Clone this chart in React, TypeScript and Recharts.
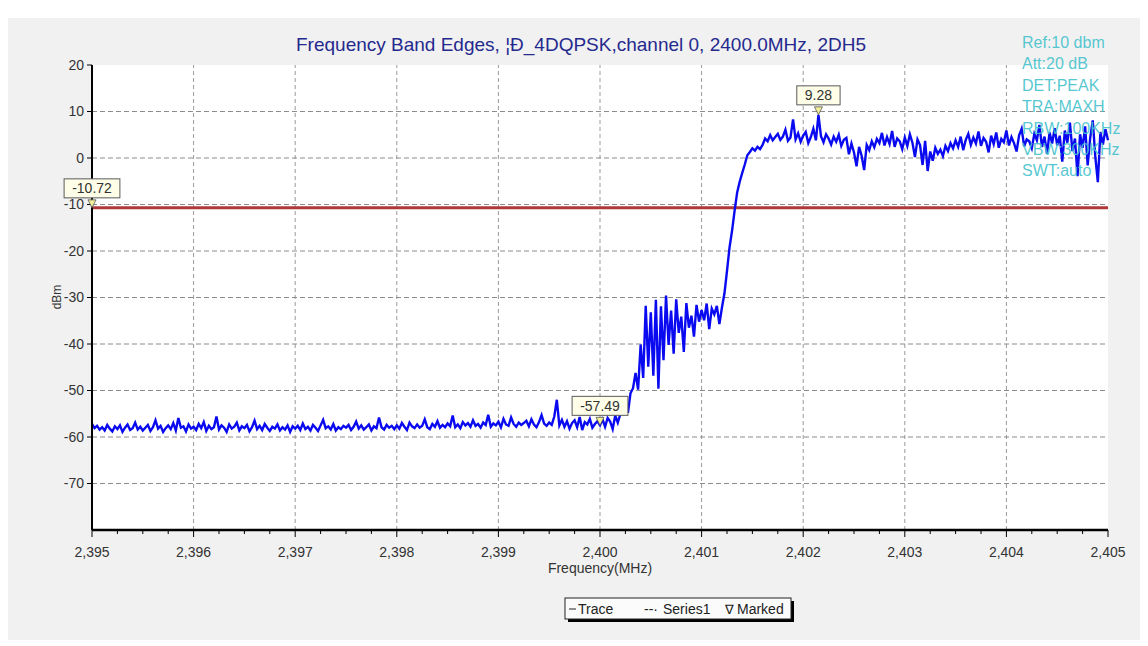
import React from 'react';
import { ComposedChart, Line, Scatter, XAxis, YAxis, ReferenceLine } from 'recharts';

const FONT = 'Liberation Sans, Arial, sans-serif';

// Sweep grid
const START_FREQ = 2395;
const STEP_MHZ = 0.025;

// Trace values (dBm), one per sweep step
const traceValues = [
  -57.2, -58.1, -57.6, -58.4, -57.9, -58.6, -57.4, -58.2, -58.8, -57.7,
  -58.3, -57.5, -58.9, -58.0, -57.3, -58.5, -58.1, -56.9, -58.4, -57.8,
  -58.6, -58.0, -57.4, -58.7, -57.9, -56.4, -58.2, -57.6, -58.9, -58.1,
  -57.5, -58.3, -57.0, -58.6, -55.9, -58.0, -57.7, -58.8, -57.3, -58.2,
  -57.8, -58.5, -57.2, -58.1, -56.8, -58.7, -57.6, -58.3, -57.9, -55.6,
  -58.4, -57.5, -58.0, -58.9, -57.3, -58.2, -57.8, -56.9, -58.6, -57.7,
  -58.1, -57.4, -58.8, -57.9, -56.5, -58.3, -57.6, -58.5, -57.2, -58.0,
  -58.7, -57.8, -58.2, -57.3, -58.6, -57.9, -58.4, -57.5, -58.9, -57.7,
  -58.2, -57.6, -58.5, -57.1, -58.3, -57.8, -58.6, -57.4, -58.0, -58.7,
  -57.5, -56.3, -58.1, -57.7, -58.4, -57.2, -58.6, -57.9, -58.3, -57.6,
  -58.0, -57.4, -58.5, -57.8, -56.7, -58.2, -57.5, -58.4, -57.9, -57.3,
  -58.6, -57.7, -58.1, -55.8, -57.9, -58.4, -57.4, -58.0, -57.6, -58.3,
  -57.5, -58.2, -57.0, -57.8, -58.5, -56.9, -57.7, -58.1, -57.3, -58.0,
  -57.6, -56.2, -57.9, -58.3, -57.2, -57.8, -56.6, -58.0, -57.4, -57.9,
  -57.1, -57.7, -55.4, -57.9, -57.3, -58.1, -56.8, -57.5, -57.0, -57.8,
  -56.4, -57.6, -57.2, -58.0, -56.9, -57.4, -55.2, -57.8, -57.1, -57.5,
  -56.7, -57.9, -56.1, -57.3, -57.6, -55.8, -57.2, -57.8, -56.9, -57.4,
  -57.0, -56.5, -57.7, -56.2, -57.3, -57.9, -56.8, -55.3, -57.1, -57.6,
  -56.9, -57.4, -55.6, -52.0, -57.5, -56.3, -57.8, -56.6, -58.2, -57.0,
  -56.4, -57.9, -55.7, -58.5, -56.8, -57.3, -56.1, -58.0, -57.2, -56.6,
  -57.49, -56.2, -57.8, -55.9, -56.7, -58.3, -55.4, -56.9, -55.1, -53.6,
  -52.4, -54.8, -50.6, -49.5, -46.2, -49.8, -40.1, -47.3, -31.8, -44.9,
  -33.2, -46.8, -30.5, -49.6, -31.9, -43.5, -29.6, -40.2, -32.8, -42.1,
  -30.4, -37.6, -34.1, -41.7, -31.2, -36.5, -33.9, -38.4, -31.6, -35.2,
  -32.7, -34.9, -31.3, -36.8, -32.4, -33.6, -31.8, -35.7, -32.2, -29.1,
  -24.3, -19.2, -15.6, -11.3, -7.4, -5.1, -3.2, -1.4, 0.6, 1.3,
  2.1, 1.6, 2.4, 1.9, 2.8, 4.2, 3.6, 4.9, 3.8, 4.5,
  5.2, 3.9, 4.6, 6.1, 3.7, 4.4, 8.3, 4.0, 5.3, 3.5,
  4.8, 5.6, 3.2, 4.5, 6.3, 3.8, 9.28, 4.7, 3.4, 5.1,
  4.2, 2.9, 4.6, 3.5, 5.0, 2.6, 3.9, 4.3, 0.8, 3.1,
  1.2, -1.8, 2.4, 0.5, -2.6, 2.8, 1.7, 3.6, 2.3, 4.1,
  3.2, 5.4, 2.7, 4.5, 3.0, 5.8, 2.4, 4.2, 3.6, 1.9,
  4.4, 2.6, 5.1, 3.3, 0.2, 4.0, 2.8, -1.5, 3.7, -2.8,
  1.4, -0.6, 2.2, 0.9, 1.8, 0.4, 2.6, 1.5, 3.2, 2.1,
  3.8, 2.4, 4.6, 1.7, 3.9, 5.2, 2.8, 4.4, 3.1, 5.7,
  2.6, 4.3, 3.5, 1.2, 4.8, 3.0, 5.5, 2.2, 4.1, 3.4,
  5.9, 2.7, 4.5, 3.2, 1.4, 4.9, 6.3, 2.5, 4.0, 3.6,
  2.1, 5.2, 3.8, 7.1, 2.4, 4.6, 0.9, 5.5, 3.1, 6.4,
  2.7, 4.8, -0.8, 5.9, 3.3, 7.6, 1.5, 4.2, -3.9, 5.1,
  2.2, 6.8, -1.6, 4.4, 8.1, 0.3, -5.2, 5.6, 2.9, 6.2,
  3.8,
];

// Series1: limit line
const series1Freqs = [2395, 2405];
const series1Values = [-10.72, -10.72];

// Marked points
const markedFreqs = [2395, 2400, 2402.15];
const markedValues = [-10.72, -57.49, 9.28];

// Axis ticks
const xMajorTicks = [2395, 2396, 2397, 2398, 2399, 2400, 2401, 2402, 2403, 2404, 2405];
const xMinorPerMajor = 4;
const yTicks = [20, 10, 0, -10, -20, -30, -40, -50, -60, -70];
const yGridValues = [10, 0, -10, -20, -30, -40, -50, -60, -70];
const xGridValues = [2396, 2397, 2398, 2399, 2400, 2401, 2402, 2403, 2404];

const infoLines = ['Ref:10 dbm', 'Att:20 dB', 'DET:PEAK', 'TRA:MAXH', 'RBW:100KHz', 'VBW:300KHz', 'SWT:auto'];
const titleText = 'Frequency Band Edges, ¦Ð_4DQPSK,channel 0, 2400.0MHz, 2DH5';

const traceRows = traceValues.map((v, i) => ({ f: +(START_FREQ + i * STEP_MHZ).toFixed(3), trace: v }));
const series1Rows = series1Freqs.map((f, i) => ({ f, v: series1Values[i] }));
const markedRows = markedFreqs.map((f, i) => ({ f, v: markedValues[i] }));

const xAllTicks: number[] = [];
xMajorTicks.forEach((t, i) => {
  xAllTicks.push(t);
  if (i < xMajorTicks.length - 1) {
    for (let k = 1; k < xMinorPerMajor; k++) xAllTicks.push(+(t + k / xMinorPerMajor).toFixed(3));
  }
});

const XTick = (props: any) => {
  const { x, y, payload } = props;
  const v = payload.value;
  const major = Math.abs(v - Math.round(v)) < 1e-6;
  if (!major) {
    return <line x1={x} y1={y} x2={x} y2={y + 4} stroke="#000" strokeWidth={1} />;
  }
  return (
    <g>
      <line x1={x} y1={y} x2={x} y2={y + 7} stroke="#000" strokeWidth={1} />
      <text x={x} y={y + 27} textAnchor="middle" fontSize={14} fill="#333" fontFamily={FONT}>
        {Math.round(v).toLocaleString('en-US')}
      </text>
    </g>
  );
};

const charW = (s: string) =>
  s.split('').reduce((a, c) => a + (c === '.' ? 3.9 : c === '-' ? 4.7 : 7.8), 0);

const MarkerShape = (props: any) => {
  const { cx, cy, payload } = props;
  if (cx == null || cy == null) return null;
  const label = Number(payload.v).toFixed(2);
  const w = charW(label) + 16;
  return (
    <g>
      <rect x={cx - w / 2} y={cy - 29} width={w} height={19} fill="#fdfde8" stroke="#5a5a5a" strokeWidth={1} />
      <text x={cx} y={cy - 14.5} textAnchor="middle" fontSize={14} fill="#333" fontFamily={FONT}>
        {label}
      </text>
      <path d={`M${cx - 4},${cy - 8} L${cx + 4},${cy - 8} L${cx},${cy} Z`} fill="#f3ee9a" stroke="#555" strokeWidth={0.8} />
    </g>
  );
};

export default function App() {
  return (
    <div style={{ position: 'absolute', left: 0, top: 0, width: 1148, height: 646, background: '#ffffff', overflow: 'hidden' }}>
      <div style={{ position: 'absolute', left: 8, top: 18, width: 1132, height: 622, background: '#f1f1f1' }} />
      <div style={{ position: 'absolute', left: 92, top: 65, width: 1016, height: 465, background: '#ffffff' }} />
      <div style={{ position: 'absolute', left: 0, top: 0 }}>
        <ComposedChart
          width={1148}
          height={646}
          data={traceRows}
          margin={{ top: 65, right: 40, left: 32, bottom: 86 }}
        >
          <XAxis
            dataKey="f"
            type="number"
            domain={[2395, 2405]}
            ticks={xAllTicks}
            interval={0}
            tick={<XTick />}
            tickLine={false}
            tickSize={0}
            tickMargin={0}
            height={30}
            axisLine={{ stroke: '#000', strokeWidth: 2.5 }}
          />
          <YAxis
            type="number"
            domain={[-80, 20]}
            ticks={yTicks}
            interval={0}
            width={60}
            tickSize={5}
            tickMargin={3}
            tick={{ fontSize: 14, fill: '#333', fontFamily: FONT }}
            tickLine={{ stroke: '#000' }}
            axisLine={{ stroke: '#000', strokeWidth: 2 }}
          />
          {xGridValues.map((g) => (
            <ReferenceLine key={'vx' + g} x={g} stroke="#9a9a9a" strokeDasharray="4 3" strokeWidth={1} />
          ))}
          {yGridValues.map((g) => (
            <ReferenceLine key={'hy' + g} y={g} stroke="#8c8c8c" strokeDasharray="5 3" strokeWidth={1} />
          ))}
          <Line
            data={series1Rows}
            dataKey="v"
            stroke="#b03838"
            strokeWidth={3}
            dot={false}
            isAnimationActive={false}
          />
          <Line
            dataKey="trace"
            stroke="#0a0af0"
            strokeWidth={2.4}
            strokeLinejoin="miter"
            dot={false}
            isAnimationActive={false}
          />
          <Scatter data={markedRows} dataKey="v" shape={<MarkerShape />} isAnimationActive={false} />
        </ComposedChart>
      </div>
      <svg width={1148} height={646} style={{ position: 'absolute', left: 0, top: 0, pointerEvents: 'none' }}>
        <text x={581} y={51} textAnchor="middle" fontSize={19} fill="#25298e" fontFamily={FONT}>
          {titleText}
        </text>
        {infoLines.map((t, i) => (
          <text key={t} x={1022} y={48 + i * 21.4} fontSize={16} fill="#45c2cc" fillOpacity={0.92} fontFamily={FONT}>
            {t}
          </text>
        ))}
        <text x={0} y={0} transform="translate(61,297) rotate(-90)" textAnchor="middle" fontSize={12} fill="#333" fontFamily={FONT}>
          dBm
        </text>
        <text x={600} y={573} textAnchor="middle" fontSize={14} fill="#333" fontFamily={FONT}>
          Frequency(MHz)
        </text>
        <rect x={568} y={601} width={226} height={21} fill="#000" />
        <rect x={565} y={598} width={226} height={21} fill="#fbfbfb" stroke="#222" strokeWidth={1} />
        <line x1={569} y1={609} x2={576} y2={609} stroke="#222" strokeWidth={1} />
        <text x={578} y={614} fontSize={14} fill="#222" fontFamily={FONT}>Trace</text>
        <text x={644} y={614} fontSize={14} fill="#222" fontFamily={FONT}>--·</text>
        <text x={663} y={614} fontSize={14} fill="#222" fontFamily={FONT}>Series1</text>
        <text x={725} y={614} fontSize={13} fill="#222" fontFamily={FONT}>∇</text>
        <text x={737} y={614} fontSize={14} fill="#222" fontFamily={FONT}>Marked</text>
      </svg>
    </div>
  );
}
